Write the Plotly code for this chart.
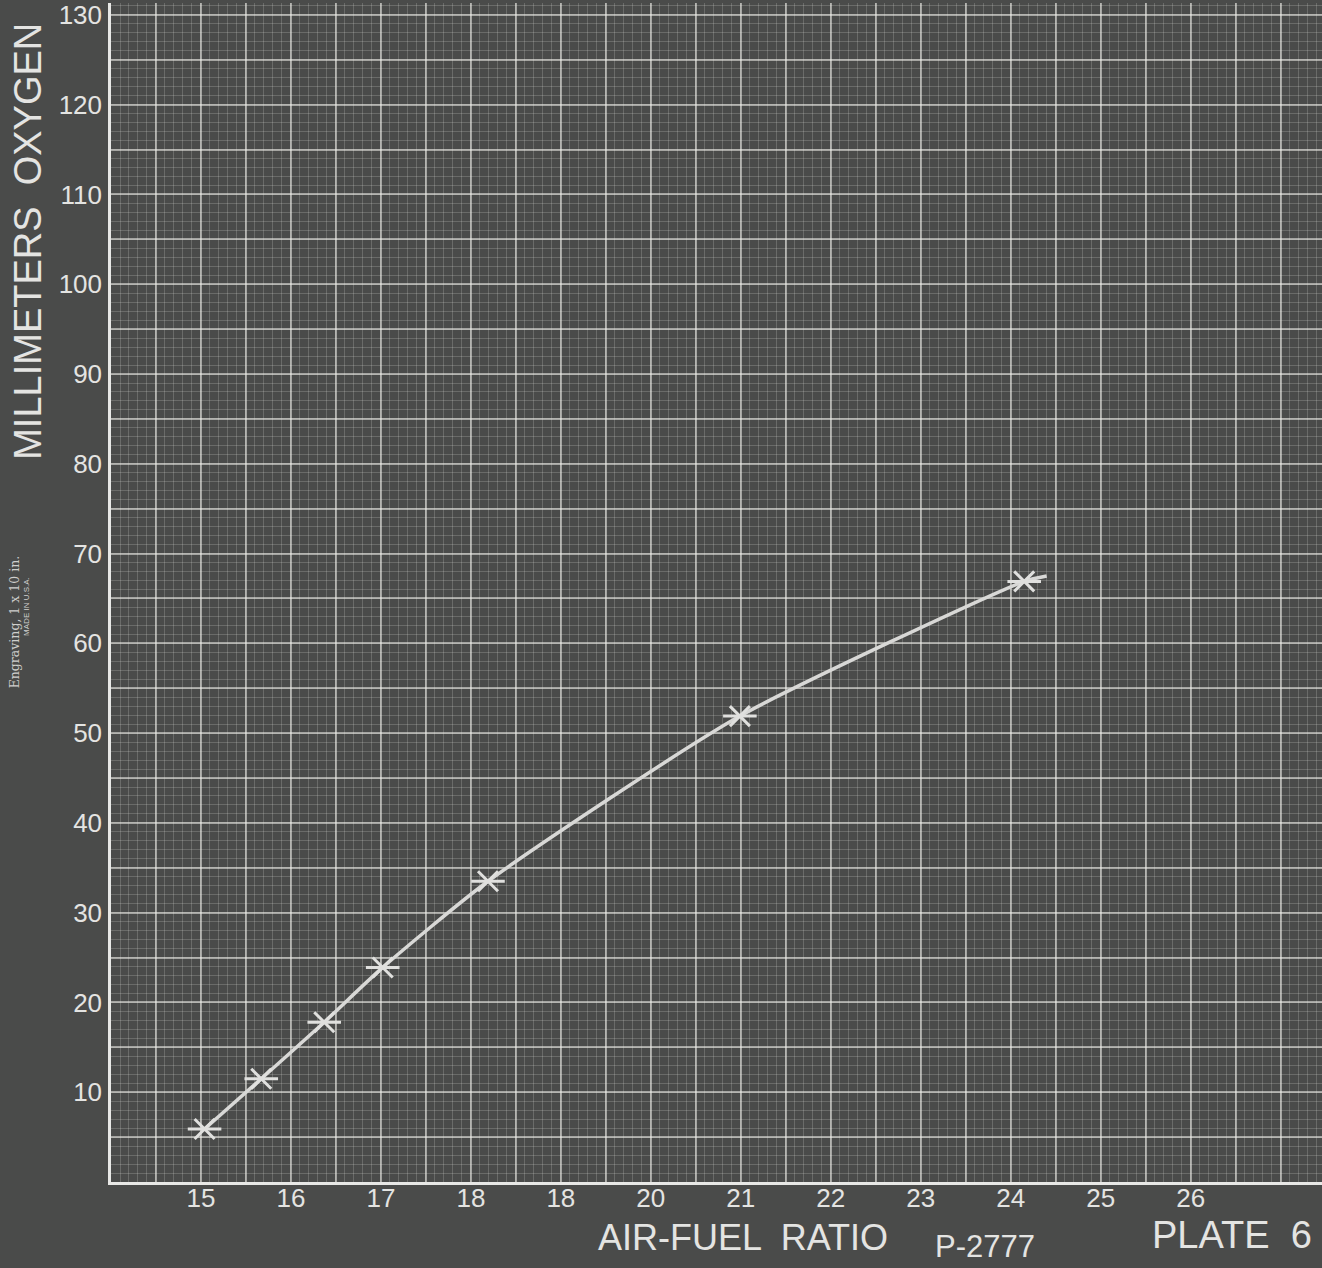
import plotly.graph_objects as go

# ---- data read from the plate ----
air_fuel = [15.04, 15.67, 16.37, 17.02, 18.19, 20.99, 24.15]
oxygen_mm = [5.9, 11.5, 17.8, 23.9, 33.5, 51.9, 66.9]
# drawn curve runs slightly past the last observed point
curve_x = air_fuel + [24.4]
curve_y = oxygen_mm + [67.5]

x_tick_vals = [15, 16, 17, 18, 19, 20, 21, 22, 23, 24, 25, 26]
x_tick_text = ["15", "16", "17", "18", "18", "20", "21", "22", "23", "24", "25", "26"]
y_tick_vals = [10, 20, 30, 40, 50, 60, 70, 80, 90, 100, 110, 120, 130]
y_tick_text = ["10", "20", "30", "40", "50", "60", "70", "80", "90", "100", "110", "120", "130"]

x_range = [14, 27.46]
y_range = [0, 131.33]

# ---- styling ----
BG = "#4a4b4a"
INK = "#e4e4e2"
MARK = "#e0e0de"
FONT = "Liberation Sans, Arial, sans-serif"

# major grid every 0.5 (x) / 5 (y); labels only on integers / tens
x_lab = dict(zip(x_tick_vals, x_tick_text))
x_major = [x_range[0] + 0.5 * i for i in range(int((x_range[1] - x_range[0]) / 0.5) + 1)]
x_major_text = [x_lab.get(int(v), "") if float(v).is_integer() else "" for v in x_major]

y_lab = dict(zip(y_tick_vals, y_tick_text))
y_major = list(range(0, 131, 5))
y_major_text = [y_lab.get(v, "") for v in y_major]

fig = go.Figure()

fig.add_trace(go.Scatter(
    x=curve_x, y=curve_y, mode="lines",
    line=dict(color="#d8d8d6", width=3.5, shape="spline", smoothing=0.6),
    hoverinfo="skip", showlegend=False,
))
fig.add_trace(go.Scatter(
    x=air_fuel, y=oxygen_mm, mode="markers",
    marker=dict(symbol="x-thin-open", size=20, color=MARK, line=dict(color=MARK, width=3)),
    showlegend=False,
))
fig.add_trace(go.Scatter(
    x=air_fuel, y=oxygen_mm, mode="markers",
    marker=dict(symbol="line-ew-open", size=24, color=MARK, line=dict(color=MARK, width=3)),
    showlegend=False,
))

fig.update_layout(
    width=1322, height=1268,
    margin=dict(l=111, r=0, t=0, b=86),
    paper_bgcolor=BG, plot_bgcolor=BG,
    font=dict(family=FONT, color=INK),
    xaxis=dict(
        range=x_range, tickmode="array", tickvals=x_major, ticktext=x_major_text,
        showgrid=True, gridcolor="rgba(240,240,235,0.55)", gridwidth=1.5,
        minor=dict(dtick=0.1, showgrid=True, gridcolor="rgba(235,235,230,0.2)", gridwidth=1),
        showline=True, linecolor="#e8e8e6", linewidth=2.5, mirror=False,
        zeroline=False, ticks="", tickfont=dict(size=26, color=INK, family=FONT),
        ticklabelstandoff=-9, ticklabeloverflow="allow",
    ),
    yaxis=dict(
        range=y_range, tickmode="array", tickvals=y_major, ticktext=y_major_text,
        showgrid=True, gridcolor="rgba(240,240,235,0.55)", gridwidth=1.5,
        minor=dict(dtick=1, showgrid=True, gridcolor="rgba(235,235,230,0.2)", gridwidth=1),
        showline=True, linecolor="#e8e8e6", linewidth=2.5,
        zeroline=False, ticks="", tickfont=dict(size=26, color=INK, family=FONT),
        ticklabelstandoff=1, ticklabeloverflow="allow",
    ),
    annotations=[
        dict(text="MILLIMETERS  OXYGEN", xref="paper", yref="paper",
             x=-0.068, y=0.798, xanchor="center", yanchor="middle", textangle=-90,
             showarrow=False, font=dict(size=38, color=INK, family=FONT)),
        dict(text="AIR-FUEL  RATIO", xref="paper", yref="paper",
             x=0.522, y=-0.047, xanchor="center", yanchor="middle",
             showarrow=False, font=dict(size=36, color=INK, family=FONT)),
        dict(text="P-2777", xref="paper", yref="paper",
             x=0.722, y=-0.055, xanchor="center", yanchor="middle",
             showarrow=False, font=dict(size=31, color=INK, family=FONT)),
        dict(text="PLATE  6", xref="paper", yref="paper",
             x=0.993, y=-0.045, xanchor="right", yanchor="middle",
             showarrow=False, font=dict(size=38, color=INK, family=FONT)),
        dict(text="Engraving, 1 x 10 in.", xref="paper", yref="paper",
             x=-0.079, y=0.475, xanchor="center", yanchor="middle", textangle=-90,
             showarrow=False, font=dict(size=12.5, color="#cfcfcd", family="DejaVu Serif, serif")),
        dict(text="MADE IN U.S.A.", xref="paper", yref="paper",
             x=-0.070, y=0.488, xanchor="center", yanchor="middle", textangle=-90,
             showarrow=False, font=dict(size=8, color="#cfcfcd", family=FONT)),
    ],
)

fig.write_html(
    "out.html",
    config={"displayModeBar": False},
    post_script="document.body.style.margin='0';document.body.style.overflow='hidden';",
)
